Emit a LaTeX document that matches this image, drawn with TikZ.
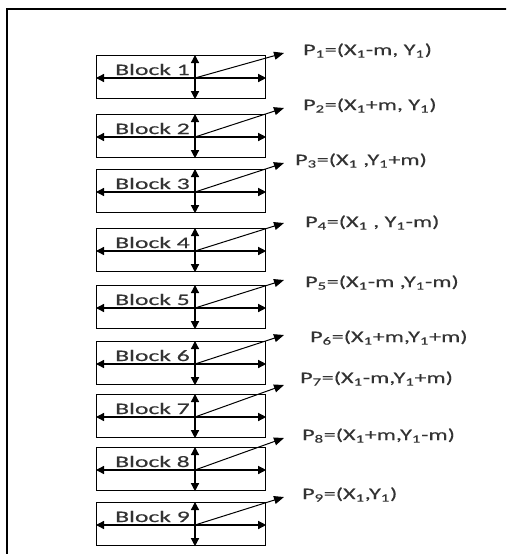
\documentclass[tikz,border=0pt]{standalone}
\usepackage{fontspec}
\usepackage{graphicx}
\setmainfont[FakeBold=0.2]{Carlito}
\usetikzlibrary{arrows.meta}
\newcommand\sbs[1]{\textsubscript{#1}}
\begin{document}
\begin{tikzpicture}[x=1pt,y=-1pt,
  tip/.style={line width=1pt,-{Triangle[length=10pt,width=8pt]}},
  dtip/.style={line width=1.3pt,{Triangle[length=8pt,width=8pt]}-{Triangle[length=8pt,width=8pt]}},
  blockbox/.style={draw, line width=1.2pt, minimum width=169pt, minimum height=43pt, inner sep=0pt, anchor=north west},
  lbl/.style={text=black!80, font=\fontsize{16}{16}\selectfont\bfseries, inner sep=0pt, anchor=base west}
]
\clip (0,0) rectangle (506,554);
\fill[white] (0,0) rectangle (506,554);
\draw[line width=1.5pt] (7,600) |- (600,9);
\foreach \i/\t/\d/\lx/\ly/\txt in {
  1/55/-2/303/55/{P\sbs{1}=(X\sbs{1}-m, Y\sbs{1})},
  2/114/-6/303/110/{P\sbs{2}=(X\sbs{1}+m, Y\sbs{1})},
  3/169/-6/295/165/{P\sbs{3}=(X\sbs{1} ,Y\sbs{1}+m)},
  4/228/-5/305/227/{P\sbs{4}=(X\sbs{1} , Y\sbs{1}-m)},
  5/285/-5/305/287/{P\sbs{5}=(X\sbs{1}-m ,Y\sbs{1}-m)},
  6/341/-6/310/342/{P\sbs{6}=(X\sbs{1}+m,Y\sbs{1}+m)},
  7/394/-9/300/383/{P\sbs{7}=(X\sbs{1}-m,Y\sbs{1}+m)},
  8/447/-9/302/440/{P\sbs{8}=(X\sbs{1}+m,Y\sbs{1}-m)},
  9/502/-5/302/499/{P\sbs{9}=(X\sbs{1},Y\sbs{1})}} {
  \node[blockbox] (b\i) at (96,\t) {};
  \coordinate (c\i) at (195,\t+23);
  \coordinate (t\i) at (284,\t+\d);
  \draw[dtip] (b\i.north -| c\i) -- (b\i.south -| c\i);
  \draw[dtip] (b\i.west |- c\i) -- (b\i.east |- c\i);
  \draw[tip] (c\i) -- (t\i);
  \node[lbl, font=\fontsize{16}{16}\selectfont\mdseries] (n\i) at (115,\t+20) {\scalebox{1.6}[1]{Block \i}};
  \node[lbl, font=\fontsize{16}{16}\selectfont\mdseries] (p\i) at (\lx,\ly) {\scalebox{1.5}[1]{\txt}};
}
\end{tikzpicture}
\end{document}
